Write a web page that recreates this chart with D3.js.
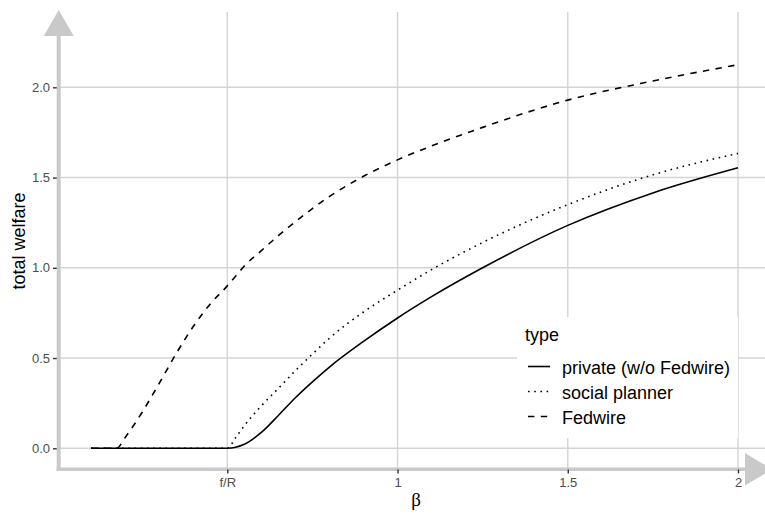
<!DOCTYPE html>
<html>
<head>
<meta charset="utf-8">
<script src="https://cdn.jsdelivr.net/npm/d3@7"></script>
<style>
  body { margin: 0; background: #fff; }
  svg { display: block; font-family: "Liberation Sans", Arial, Helvetica, sans-serif; }
</style>
</head>
<body>
<svg id="chart"></svg>
<script>
// values
var betas      = [0.1, 0.175, 0.2, 0.25, 0.3, 0.35, 0.4, 0.45, 0.5, 0.525, 0.55, 0.6, 0.65, 0.7, 0.75, 0.8, 0.9, 1.0, 1.1, 1.25, 1.5, 1.75, 2.0];
var privateW   = [0, 0, 0, 0, 0, 0, 0, 0, 0, 0.006, 0.022, 0.088, 0.182, 0.28, 0.368, 0.45, 0.592, 0.722, 0.84, 1.0, 1.235, 1.415, 1.554];
var plannerW   = [0, 0, 0, 0, 0, 0, 0, 0, 0, 0.06, 0.125, 0.235, 0.332, 0.43, 0.522, 0.61, 0.755, 0.876, 0.99, 1.14, 1.35, 1.515, 1.634];
var fedwireW   = [0, 0, 0.06, 0.2, 0.36, 0.525, 0.675, 0.8, 0.9, 0.955, 1.01, 1.095, 1.178, 1.255, 1.328, 1.395, 1.507, 1.598, 1.675, 1.778, 1.929, 2.035, 2.125];
var seriesNames = ["private (w/o Fedwire)", "social planner", "Fedwire"];
var xTicks = [0.5, 1, 1.5, 2];
var xTickLabels = ["f/R", "1", "1.5", "2"];
var yTicks = [0, 0.5, 1, 1.5, 2];

var width = 765, height = 514;
var panel = { left: 57, right: 765, top: 12, bottom: 470 };

var svg = d3.select("#chart").attr("width", width).attr("height", height);

var x = d3.scaleLinear().domain([0.5, 2]).range([227.3, 738]);
var y = d3.scaleLinear().domain([0, 2]).range([448.3, 87.3]);

var gridColor = "#d4d4d4";
var axisColor = "#c9c9c9";

// grid
svg.append("g")
  .selectAll("line.h")
  .data(yTicks)
  .enter().append("line")
  .attr("x1", panel.left).attr("x2", panel.right)
  .attr("y1", function (d) { return y(d); })
  .attr("y2", function (d) { return y(d); })
  .attr("stroke", gridColor).attr("stroke-width", 1.4);

svg.append("g")
  .selectAll("line.v")
  .data(xTicks)
  .enter().append("line")
  .attr("x1", function (d) { return x(d); })
  .attr("x2", function (d) { return x(d); })
  .attr("y1", panel.top).attr("y2", panel.bottom)
  .attr("stroke", gridColor).attr("stroke-width", 1.4);

// y ticks + labels
var yAxis = svg.append("g")
  .attr("transform", "translate(57,0)")
  .call(d3.axisLeft(y).tickValues(yTicks).tickSize(4).tickPadding(3)
    .tickFormat(d3.format(".1f")));
yAxis.select(".domain").remove();
yAxis.selectAll("line").attr("stroke", "#333").attr("stroke-width", 1.4);
yAxis.selectAll("text").attr("fill", "#4d4d4d").style("font-size", "13px")
  .style("font-family", "'Liberation Sans', Arial, sans-serif");

// axis lines with arrow heads
svg.append("line")
  .attr("x1", 58.7).attr("x2", 58.7).attr("y1", 471).attr("y2", 34)
  .attr("stroke", axisColor).attr("stroke-width", 4);
svg.append("path")
  .attr("d", "M58.7,10 L73.7,36 L43.7,36 Z")
  .attr("fill", axisColor);
svg.append("line")
  .attr("x1", 56.7).attr("x2", 747).attr("y1", 469.3).attr("y2", 469.3)
  .attr("stroke", axisColor).attr("stroke-width", 3.6);
svg.append("path")
  .attr("d", "M745,453 L772,469.3 L745,485.6 Z")
  .attr("fill", axisColor);

// x ticks + labels
var xAxis = svg.append("g")
  .attr("transform", "translate(0,469.5)")
  .call(d3.axisBottom(x).tickValues(xTicks).tickSize(4).tickPadding(4.5)
    .tickFormat(function (d, i) { return xTickLabels[i]; }));
xAxis.select(".domain").remove();
xAxis.selectAll("line").attr("stroke", "#333").attr("stroke-width", 1.4);
xAxis.selectAll("text").attr("fill", "#4d4d4d").style("font-size", "13px")
  .style("font-family", "'Liberation Sans', Arial, sans-serif");

// lines
var dashes = ["none", "1.6,4.6", "6.4,6.4"];
var seriesValues = [privateW, plannerW, fedwireW];

var valueLine = d3.line()
  .x(function (d) { return x(d[0]); })
  .y(function (d) { return y(d[1]); })
  .curve(d3.curveMonotoneX);

seriesValues.forEach(function (vals, i) {
  svg.append("path")
    .datum(betas.map(function (b, j) { return [b, vals[j]]; }))
    .attr("d", valueLine)
    .attr("fill", "none")
    .attr("stroke", "#000")
    .attr("stroke-width", 1.6)
    .attr("stroke-dasharray", dashes[i]);
});

// axis titles
svg.append("text")
  .attr("transform", "translate(25,241) rotate(-90)")
  .attr("text-anchor", "middle")
  .style("font-size", "18px")
  .text("total welfare");

svg.append("text")
  .attr("x", 416).attr("y", 506)
  .attr("text-anchor", "middle")
  .style("font-size", "19px")
  .style("font-family", "'Liberation Serif', 'Times New Roman', serif")
  .text("β");

// legend
var legend = svg.append("g");
legend.append("rect")
  .attr("x", 517).attr("y", 317).attr("width", 221).attr("height", 121)
  .attr("fill", "#fff");
legend.append("text")
  .attr("x", 525).attr("y", 341)
  .style("font-size", "18px")
  .text("type");

seriesNames.forEach(function (name, i) {
  var base = 373.5 + i * 25;
  legend.append("line")
    .attr("x1", 528).attr("x2", 550)
    .attr("y1", base - 7).attr("y2", base - 7)
    .attr("stroke", "#000").attr("stroke-width", 1.6)
    .attr("stroke-dasharray", dashes[i]);
  legend.append("text")
    .attr("x", 562).attr("y", base)
    .style("font-size", "18px")
    .text(name);
});
</script>
</body>
</html>
